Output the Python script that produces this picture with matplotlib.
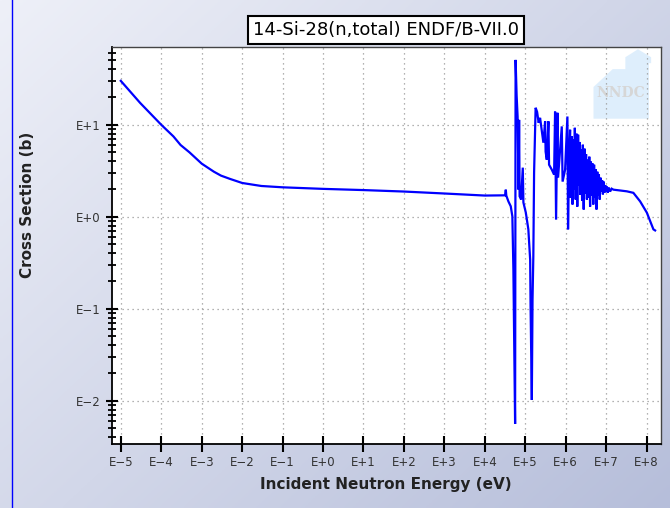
import numpy as np
import matplotlib
matplotlib.use("Agg")
import matplotlib.pyplot as plt
from matplotlib.ticker import FixedLocator, FuncFormatter, LogLocator, NullFormatter
from matplotlib.patches import Polygon

# Si-28 total cross section (energy in eV, xs in barns)
energy_ev = [
    1e-5, 3e-5, 1e-4, 2e-4, 3e-4, 5e-4, 1e-3, 2e-3, 3e-3, 5e-3, 1e-2, 2e-2, 3e-2, 5e-2,
    1e-1, 1e0, 1e1, 1e2, 1e3, 1e4,
    3.16e4, 3.3e4, 3.39e4, 3.82e4, 4.37e4, 4.79e4, 5.08e4, 5.6e4, 5.76e4, 6.1e4,
    6.46e4, 6.83e4, 7.03e4, 7.24e4, 7.87e4, 8.67e4, 8.98e4, 1.03e5, 1.19e5, 1.32e5,
    1.35e5, 1.45e5, 1.51e5, 1.58e5, 1.65e5, 1.8e5, 1.96e5, 2.14e5, 2.32e5, 2.8e5,
    3.09e5, 3.18e5, 3.4e5, 3.73e5, 3.87e5, 4.52e5, 5.15e5, 5.45e5, 5.77e5, 6.22e5,
    6.46e5, 7.98e5, 8.36e5, 9.64e5, 1.1e6, 1.14e6,
    1.21e6, 1.28e6, 1.34e6, 1.40e6, 1.47e6, 1.54e6, 1.61e6, 1.68e6, 1.76e6, 1.85e6,
    1.93e6, 2.02e6, 2.11e6, 2.21e6, 2.32e6, 2.42e6, 2.54e6, 2.65e6, 2.78e6, 2.91e6,
    3.04e6, 3.18e6, 3.33e6, 3.49e6, 3.65e6, 3.82e6, 4.0e6, 4.19e6, 4.38e6, 4.58e6,
    4.80e6, 5.02e6, 5.26e6, 5.50e6, 5.76e6, 6.03e6, 6.31e6, 6.60e6, 6.91e6, 7.23e6,
    7.57e6, 7.92e6, 8.29e6, 8.67e6, 9.08e6, 9.50e6, 9.95e6, 1.04e7, 1.09e7,
    1.15e7, 1.25e7, 1.36e7, 1.51e7, 2.21e7, 3.24e7, 4.7e7, 6.9e7, 1.01e8, 1.47e8, 1.62e8,
]
xs_barn = [
    30.0, 17.3, 10.0, 7.47, 6.03, 5.01, 3.78, 3.09, 2.80, 2.58, 2.33, 2.22, 2.16, 2.13,
    2.09, 2.01, 1.95, 1.88, 1.79, 1.70,
    1.71, 1.97, 1.70, 1.47, 1.30, 1.01, 0.267, 0.0056, 50.7, 21.0,
    12.2, 1.97, 11.3, 1.67, 1.54, 3.42, 1.43, 1.11, 0.73, 0.34,
    0.109, 0.0102, 0.126, 0.37, 3.01, 15.3, 13.8, 10.5, 11.9, 6.38,
    10.9, 5.1, 4.17, 10.9, 3.68, 3.25, 2.87, 13.9, 0.93, 13.5,
    2.66, 9.6, 2.41, 3.25, 12.3, 0.73,
    4.17, 8.83, 1.6, 7.5, 1.36, 6.87, 2.0, 9.27, 1.54, 8.0,
    1.29, 7.8, 2.2, 6.5, 1.73, 5.36, 1.5, 6.07, 1.2, 5.5,
    1.8, 4.8, 1.54, 4.17, 1.6, 4.5, 1.29, 3.98, 1.7, 3.8,
    1.36, 3.68, 1.6, 3.3, 1.2, 3.09, 1.7, 2.9, 1.54, 2.66,
    1.88, 2.5, 1.75, 2.41, 1.83, 2.2, 1.9, 2.13, 1.83,
    2.08, 1.88, 2.02, 1.97, 1.93, 1.89, 1.82, 1.47, 1.11, 0.73, 0.71,
]
x_decades = list(range(-5, 9))
y_decades = [-2, -1, 0, 1]

title = "14-Si-28(n,total) ENDF/B-VII.0"
x_label = "Incident Neutron Energy (eV)"
y_label = "Cross Section (b)"


def e_fmt(v, pos=None):
    # E+1 / E\u22122 style labels
    return "E{:+d}".format(int(round(np.log10(v)))).replace("-", "\u2212")


fig = plt.figure(figsize=(6.7, 5.08), dpi=100)

# gradient background
bg = fig.add_axes([0, 0, 1, 1], zorder=-10)
gx, gy = np.meshgrid(np.linspace(0, 1, 200), np.linspace(0, 1, 200))
t = np.clip(0.55 * gx + 0.45 * gy, 0, 1)[..., None]
c0 = np.array([238, 240, 248]) / 255.0
c1 = np.array([182, 190, 218]) / 255.0
bg.imshow(c0 * (1 - t) + c1 * t, extent=[0, 1, 0, 1], aspect="auto", origin="upper")
bg.plot([11.7 / 670, 11.7 / 670], [0, 1], color="#0000ff", lw=1.0)
bg.set_xlim(0, 1)
bg.set_ylim(0, 1)
bg.axis("off")

ax = fig.add_axes([112.3 / 670, 1 - 444 / 508, (661 - 112.3) / 670, (444 - 47.3) / 508])
ax.set_facecolor("white")
ax.plot(energy_ev, xs_barn, color="#0000ff", lw=1.6, solid_joinstyle="miter")

ax.set_xscale("log")
ax.set_yscale("log")
ax.set_xlim(10 ** -5.21, 10 ** 8.355)
ax.set_ylim(10 ** -2.47, 10 ** 1.842)

ax.xaxis.set_major_locator(FixedLocator([10.0 ** d for d in x_decades]))
ax.xaxis.set_minor_locator(FixedLocator([]))
ax.xaxis.set_major_formatter(FuncFormatter(e_fmt))
ax.yaxis.set_major_locator(FixedLocator([10.0 ** d for d in y_decades]))
ax.yaxis.set_minor_locator(LogLocator(base=10, subs=np.arange(2, 10), numticks=20))
ax.yaxis.set_minor_formatter(NullFormatter())
ax.yaxis.set_major_formatter(FuncFormatter(e_fmt))

ax.tick_params(axis="x", which="major", direction="inout", length=11, width=1.5,
               labelsize=8.5, labelcolor="#333333", pad=3)
ax.tick_params(axis="y", which="major", direction="inout", length=9, width=1.5,
               labelsize=8.5, labelcolor="#333333", pad=4)
ax.tick_params(axis="y", which="minor", direction="inout", length=6, width=1.3)

ax.grid(True, which="major", color="#999999", linestyle=(0, (1, 3)), lw=0.9)
for side in ["left", "bottom"]:
    ax.spines[side].set_color("black")
    ax.spines[side].set_linewidth(1.3)
for side in ["top", "right"]:
    ax.spines[side].set_color("#444444")
    ax.spines[side].set_linewidth(1.0)

# NNDC watermark
house = Polygon(
    [(0.877, 0.82), (0.877, 0.9), (0.912, 0.945), (0.935, 0.945), (0.935, 0.975),
     (0.958, 0.995), (0.982, 0.975), (0.982, 0.96), (0.978, 0.96), (0.978, 0.82)],
    closed=True, transform=ax.transAxes, facecolor="#d3e9fc", edgecolor="none",
    alpha=0.75, zorder=1)
ax.add_patch(house)
ax.text(0.927, 0.885, "NNDC", transform=ax.transAxes, ha="center", va="center",
        fontsize=10, family="DejaVu Serif", fontweight="bold", color="#d6d6d6", zorder=1)

fig.text(386 / 670, 1 - 30 / 508, title, ha="center", va="center", fontsize=13,
         color="black",
         bbox=dict(boxstyle="square,pad=0.25", facecolor="white", edgecolor="black",
                   linewidth=1.5))
fig.text(386 / 670, 1 - 485 / 508, x_label, ha="center", va="center", fontsize=11,
         fontweight="bold", color="#222222")
fig.text(28 / 670, 1 - 205 / 508, y_label, ha="center", va="center", fontsize=11,
         fontweight="bold", color="#222222", rotation=90)

fig.savefig("out.png", dpi=100)
